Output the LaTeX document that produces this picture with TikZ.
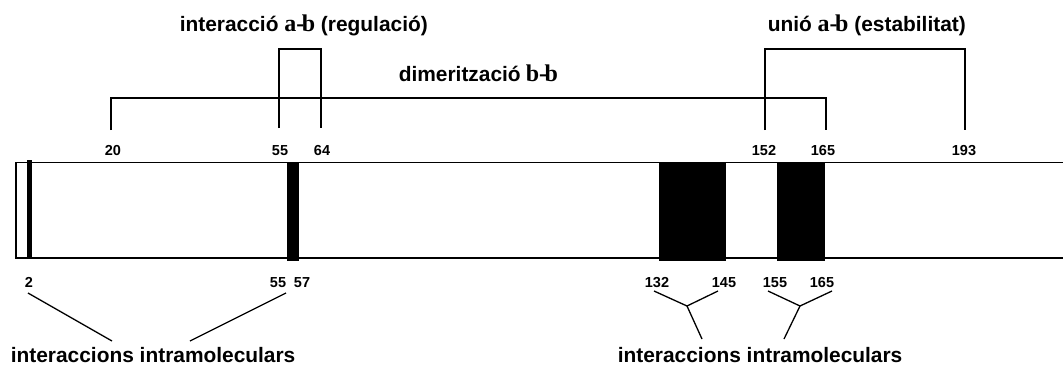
\documentclass[tikz,border=0pt]{standalone}
\usepackage{fontspec}
\setmainfont{Liberation Sans}
\newfontfamily\symserif{Liberation Serif}
\newcommand{\ab}[2]{{\symserif\bfseries\fontsize{24}{24}\selectfont #1\kern0pt-\kern-2.5pt#2}}
\begin{document}
\begin{tikzpicture}[x=1pt,y=-1pt,line width=1.6pt,
  lbl/.style={font=\bfseries\fontsize{20.9}{22}\selectfont,inner sep=0pt},
  num/.style={font=\bfseries\fontsize{14.5}{16}\selectfont,inner sep=0pt,anchor=base},
  band/.style={fill=black,draw=none}]
\useasboundingbox (0,0) rectangle (1063,367);

% protein chain
\draw[line width=1.3pt] (1063,162.7) -- (16,162.7) -- (16,258) -- (1063,258);
\fill[band] (27,160) rectangle (32,258);
\fill[band] (287,162) rectangle (299,261);
\fill[band] (659,162) rectangle (726,261);
\fill[band] (777,162) rectangle (825,261);

% titles
\node[lbl,anchor=base west] (tReg) at (179,31) {interacció \ab{a}{b} (regulació)};
\node[lbl,anchor=base west] (tDim) at (398,81.5) {dimerització\kern5pt\ab{b}{b}};
\node[lbl,anchor=base west] (tEst) at (767,31) {unió \ab{a}{b} (estabilitat)};
\node[lbl,anchor=base west] (tIntL) at (10,362) {interaccions intramoleculars};
\node[lbl,anchor=base west] (tIntR) at (617,362) {interaccions intramoleculars};

% residue numbers above
\node[num] (u20) at (113,155) {20};
\node[num] (u55) at (280,155) {55};
\node[num] (u64) at (322,155) {64};
\node[num] (u152) at (764,155) {152};
\node[num] (u165) at (823,155) {165};
\node[num] (u193) at (964,155) {193};

% residue numbers below
\node[num] (d2) at (29,287) {2};
\node[num] (d55) at (278,287) {55};
\node[num] (d57) at (302,287) {57};
\node[num] (d132) at (657,287) {132};
\node[num] (d145) at (724,287) {145};
\node[num] (d155) at (775,287) {155};
\node[num] (d165) at (822,287) {165};

% brackets above
\draw (111,130) |- (826,98) -- (826,130);
\draw (279,128) |- (321,49) -- (321,128);
\draw (765,130) |- (965,49) -- (965,130);

% links below
\coordinate (yA) at (687,306);
\coordinate (yB) at (800,306);
\draw[line width=1.3pt] (28,293) -- (112,341);
\draw[line width=1.3pt] (286,293) -- (190,341);
\draw[line width=1.3pt] (654,291) -- (yA) -- (718,291);
\draw[line width=1.3pt] (yA) -- (702,339);
\draw[line width=1.3pt] (768,291) -- (yB) -- (832,291);
\draw[line width=1.3pt] (yB) -- (784,339);
\end{tikzpicture}
\end{document}
